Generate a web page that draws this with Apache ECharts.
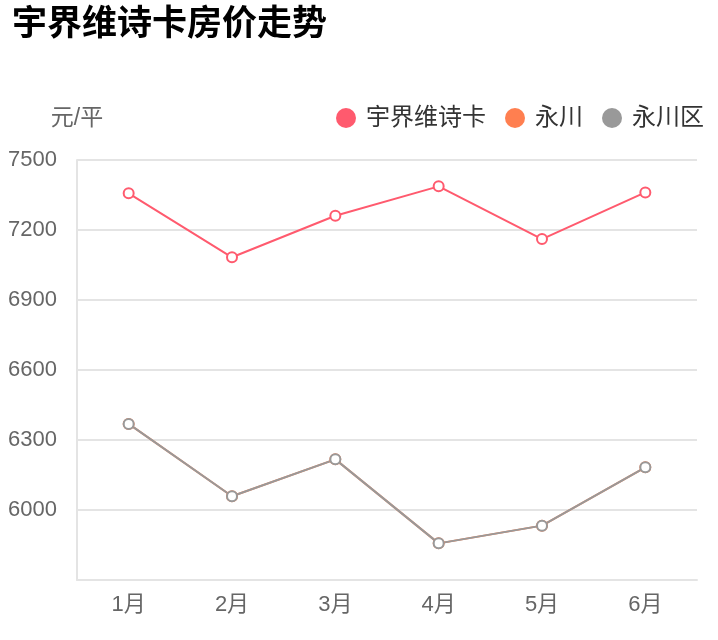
<!DOCTYPE html>
<html>
<head>
<meta charset="utf-8">
<script src="https://cdn.jsdelivr.net/npm/echarts@6/dist/echarts.min.js"></script>
<style>
  html, body { margin: 0; padding: 0; background: #fff; }
  #main { width: 718px; height: 640px; }
</style>
</head>
<body>
<div id="main"></div>
<script>
var chartDom = document.getElementById('main')
var myChart = echarts.init(chartDom)

// 数据
const months = ['1月', '2月', '3月', '4月', '5月', '6月']
const yjwsk = [7357, 7083, 7261, 7387, 7161, 7361]
const yongchuan = [6369, 6059, 6217, 5857, 5933, 6183]
const yongchuanqu = [6369, 6059, 6217, 5857, 5933, 6183]
const seriesNames = ['宇界维诗卡', '永川', '永川区']
const colors = ['#ff5a6e', '#ff7f50', '#999999']

const font = 'Liberation Sans, Noto Sans CJK SC, sans-serif'

const makeLine = (name, data, color) => ({
  name: name,
  type: 'line',
  data: data,
  symbol: 'emptyCircle',
  symbolSize: 10,
  itemStyle: { color: color, borderWidth: 2 },
  lineStyle: { color: color, width: 2 }
})

var option = {
  color: colors,
  textStyle: { fontFamily: font },
  title: {
    text: '宇界维诗卡房价走势',
    left: 7,
    top: 3,
    textStyle: { fontSize: 35, fontWeight: 'bold', color: '#000', fontFamily: font }
  },
  legend: {
    right: 9,
    top: 101,
    icon: 'circle',
    itemWidth: 30,
    itemHeight: 20,
    itemGap: 19,
    textStyle: { fontSize: 24, color: '#333', fontFamily: font },
    data: seriesNames
  },
  grid: { left: 77, right: 21, top: 160, bottom: 60, outerBoundsMode: 'none' },
  xAxis: {
    type: 'category',
    data: months,
    boundaryGap: true,
    axisLine: { lineStyle: { color: '#e4e4e4', width: 2 } },
    axisTick: { show: false },
    axisLabel: { fontSize: 22, color: '#666', margin: 14, fontFamily: font }
  },
  yAxis: {
    type: 'value',
    name: '元/平',
    nameGap: 30,
    nameTextStyle: { fontSize: 23, color: '#666', fontFamily: font },
    min: 5700,
    max: 7500,
    interval: 300,
    axisLine: { show: true, lineStyle: { color: '#e4e4e4', width: 2 } },
    axisTick: { show: false },
    axisLabel: {
      fontSize: 22,
      color: '#666',
      margin: 20,
      showMinLabel: false,
      fontFamily: font,
      formatter: v => String(v)
    },
    splitLine: { lineStyle: { color: '#e4e4e4', width: 2 } }
  },
  series: [
    makeLine(seriesNames[0], yjwsk, colors[0]),
    makeLine(seriesNames[1], yongchuan, colors[1]),
    makeLine(seriesNames[2], yongchuanqu, colors[2])
  ]
}

myChart.setOption(option)
</script>
</body>
</html>
